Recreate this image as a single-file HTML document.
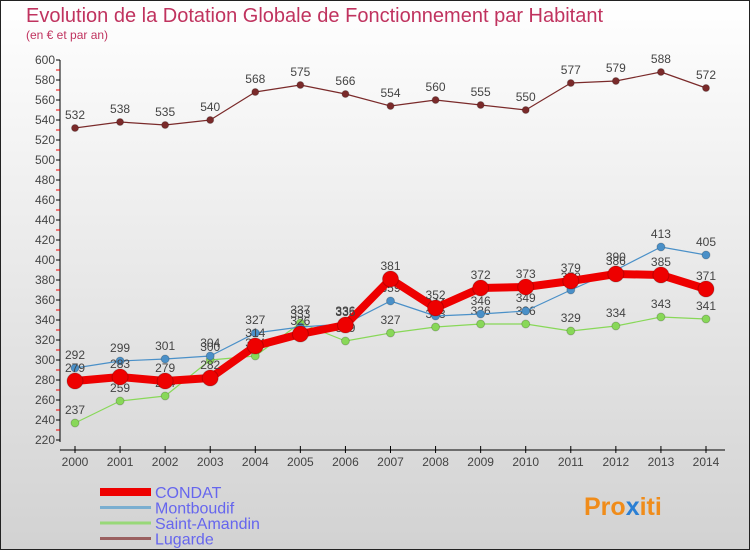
<!DOCTYPE html>
<html><head><meta charset="utf-8"><style>
body{margin:0;width:750px;height:550px;overflow:hidden;font-family:"Liberation Sans",sans-serif}
</style></head><body>
<svg width="750" height="550" xmlns="http://www.w3.org/2000/svg">
<defs><linearGradient id="bg" x1="0" y1="0" x2="0" y2="1"><stop offset="0" stop-color="#ffffff"/><stop offset="1" stop-color="#d2d2d2"/></linearGradient></defs>
<rect x="0.5" y="0.5" width="749" height="549" fill="url(#bg)" stroke="#222"/>
<text x="26" y="22" font-size="20" fill="#c0335f">Evolution de la Dotation Globale de Fonctionnement par Habitant</text>
<text x="26" y="39" font-size="12" fill="#c0335f">(en € et par an)</text>
<g id="axes"></g>
<g id="series"></g>
<g id="legend"></g>
<text x="584" y="515" font-size="25" font-weight="bold" fill="#f08c1a">Pro<tspan fill="#2a7fd4">x</tspan>iti</text>
</svg>
<script>
const years=[2000,2001,2002,2003,2004,2005,2006,2007,2008,2009,2010,2011,2012,2013,2014];
const condat=[279,283,279,282,314,326,335,381,352,372,373,379,386,385,371];
const montboudif=[292,299,301,304,327,333,336,359,344,346,349,370,390,413,405];
const saintAmandin=[237,259,264,300,304,337,319,327,333,336,336,329,334,343,341];
const lugarde=[532,538,535,540,568,575,566,554,560,555,550,577,579,588,572];
const yTicks=[220,240,260,280,300,320,340,360,380,400,420,440,460,480,500,520,540,560,580,600];
const NS="http://www.w3.org/2000/svg";
const x=i=>75+i*(706-75)/(years.length-1);
const y=v=>440-(v-220);
function mk(t,a,p){const e=document.createElementNS(NS,t);for(const k in a)e.setAttribute(k,a[k]);p.appendChild(e);return e;}
const ax=document.getElementById('axes');
const yl=mk('line',{x1:60,y1:60,x2:60,y2:442,stroke:'#000'},ax);


yTicks.forEach((v,k)=>{
 mk('line',{x1:56,x2:60,y1:y(v),y2:y(v),stroke:'#000'},ax);
 if(k<yTicks.length-1) mk('line',{x1:56,x2:60,y1:y(v+10),y2:y(v+10),stroke:'#e00'},ax);
 const t=mk('text',{x:55,y:y(v)+4,'font-size':12,'text-anchor':'end',fill:'#444'},ax);
 t.textContent=v;
 
 
});
const xl=mk('line',{x1:60,y1:450,x2:725,y2:450,stroke:'#000'},ax);


years.forEach((yr,i)=>{
 mk('line',{x1:x(i),x2:x(i),y1:446,y2:453,stroke:'#000'},ax);
 const t=mk('text',{x:x(i),y:466,'font-size':12,'text-anchor':'middle',fill:'#444'},ax);
 t.textContent=yr;
 
 
});
const sg=document.getElementById('series');
function series(name,data,color,w,r){
 const g=mk('g',{},sg);
 
 
 const pl=mk('polyline',{points:data.map((v,i)=>x(i)+','+y(v)).join(' '),fill:'none',stroke:color,'stroke-width':w,'stroke-linejoin':'round'},g);
 
 
 data.forEach((v,i)=>{
  const c=mk('circle',{cx:x(i),cy:y(v),r:r,fill:color,stroke:'rgba(0,0,0,0.2)'},g);
  
  
  const t=mk('text',{x:x(i),y:y(v)-9,'font-size':12,'text-anchor':'middle',fill:'#444'},g);
  t.textContent=v;
  
  
 });
}
series('lugarde',lugarde,'#7a2a2a',1.2,3.5);
series('saint-amandin',saintAmandin,'#88d858',1.2,4);
series('montboudif',montboudif,'#4a90c8',1.2,4);
series('condat',condat,'#ee0000',8,8);
const lg=document.getElementById('legend');
[['CONDAT','#ee0000',8],['Montboudif','#7aaed0',3],['Saint-Amandin','#98d878',3],['Lugarde','#9a6060',3]].forEach((e,i)=>{
 const yy=492+i*15.5;
 const g=mk('g',{},lg);
 
 
 mk('line',{x1:100,x2:151,y1:yy,y2:yy,stroke:e[1],'stroke-width':e[2]},g);
 const t=mk('text',{x:155,y:yy+6,'font-size':16,fill:'#6666ee'},g);
 t.textContent=e[0];
});
</script>
</body></html>
